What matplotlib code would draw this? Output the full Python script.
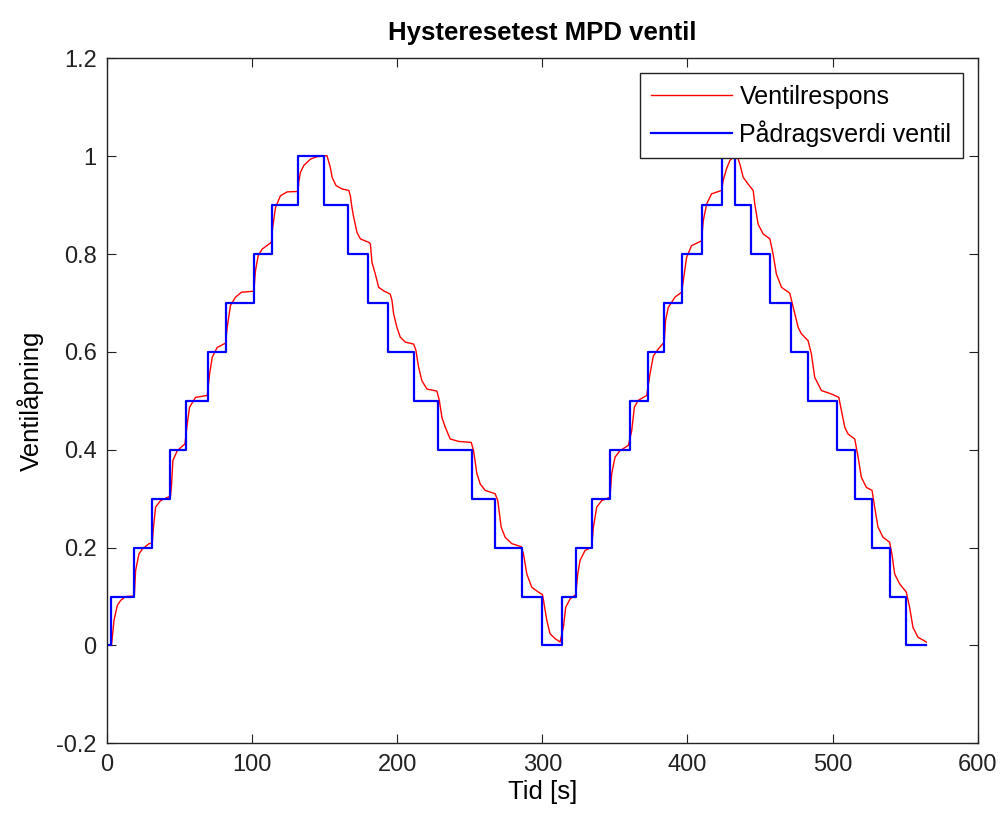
import matplotlib
matplotlib.use("Agg")
import matplotlib.pyplot as plt

# Command signal: start time of each step and the level held from that time
cmd_t = [0, 2.5, 18.6, 31.2, 43.4, 54.6, 69.7, 81.9, 101.2, 113.6, 131.7,
         149.8, 166.1, 180.1, 193.6, 211.5, 228.0, 251.4, 267.7, 285.8, 299.6,
         313.4, 323.0, 334.2, 346.6, 360.4, 372.6, 383.8, 396.4, 410.0, 423.9,
         433.1, 444.1, 456.8, 471.7, 483.1, 503.3, 515.7, 527.2, 539.4, 550.8]
cmd_v = [0.0, 0.1, 0.2, 0.3, 0.4, 0.5, 0.6, 0.7, 0.8, 0.9, 1.0,
         0.9, 0.8, 0.7, 0.6, 0.5, 0.4, 0.3, 0.2, 0.1, 0.0,
         0.1, 0.2, 0.3, 0.4, 0.5, 0.6, 0.7, 0.8, 0.9, 1.0,
         0.9, 0.8, 0.7, 0.6, 0.5, 0.4, 0.3, 0.2, 0.1, 0.0]
cmd_end = 564.6

# Measured valve response
resp_t = [2.8, 3.2, 4.8, 7.1, 9.4, 12.8, 18.8, 19.7, 22.0, 24.3, 28.9, 31.2, 31.9,
          33.5, 36.9, 42.7, 43.8, 44.5, 45.4, 48.4, 53.7, 55.3, 56.9, 61.0, 69.1,
          70.7, 72.5, 75.9, 81.7, 82.8, 85.1, 88.6, 92.7, 101.2, 102.3, 104.2,
          106.9, 113.3, 114.2, 116.1, 119.5, 124.1, 131.7, 132.1, 133.3, 135.6,
          140.2, 144.8, 151.6, 153.9, 155.1, 157.8, 162.0, 166.6, 167.7, 168.8,
          170.0, 172.3, 174.6, 180.3, 181.5, 182.6, 184.9, 187.2, 190.6, 195.2,
          196.4, 197.5, 199.8, 202.1, 205.6, 211.3, 212.9, 214.7, 217.0, 220.5,
          227.3, 229.0, 230.8, 233.1, 236.5, 242.3, 251.0, 252.6, 254.9, 257.2,
          260.6, 267.5, 269.3, 271.6, 274.4, 279.0, 285.4, 287.0, 289.3, 292.7,
          297.3, 300.1, 300.8, 303.1, 305.3, 308.8, 312.2, 314.5, 316.1, 319.1,
          323.0, 324.4, 326.0, 329.4, 334.0, 335.2, 337.5, 340.9, 346.6, 347.8,
          350.1, 353.5, 359.3, 361.6, 363.4, 366.1, 371.9, 374.2, 376.5, 379.9,
          384.0, 384.9, 386.8, 391.4, 396.0, 397.8, 399.4, 402.8, 409.7, 410.9,
          413.2, 416.6, 423.5, 424.6, 426.9, 429.2, 431.5, 434.5, 436.1, 438.4,
          441.8, 445.3, 446.4, 448.7, 452.2, 456.8, 459.0, 461.3, 464.8, 470.5,
          474.0, 476.3, 478.5, 483.1, 485.4, 487.7, 492.3, 499.2, 504.3, 506.1,
          508.4, 510.7, 515.3, 517.6, 519.8, 523.3, 527.2, 529.0, 531.3, 534.8,
          539.3, 540.9, 542.8, 546.2, 550.8, 553.1, 555.4, 558.8, 564.6]
resp_v = [0.0, 0.003, 0.051, 0.082, 0.092, 0.100, 0.101, 0.153, 0.187, 0.197, 0.208,
          0.209, 0.238, 0.283, 0.296, 0.304, 0.306, 0.330, 0.378, 0.398, 0.412,
          0.453, 0.487, 0.507, 0.511, 0.555, 0.589, 0.609, 0.618, 0.650, 0.695,
          0.712, 0.722, 0.724, 0.766, 0.797, 0.810, 0.824, 0.855, 0.895, 0.919,
          0.927, 0.928, 0.947, 0.967, 0.981, 0.994, 0.999, 1.001, 0.977, 0.957,
          0.940, 0.933, 0.930, 0.919, 0.895, 0.875, 0.844, 0.831, 0.824, 0.821,
          0.783, 0.759, 0.732, 0.725, 0.718, 0.705, 0.678, 0.650, 0.630, 0.620,
          0.616, 0.603, 0.569, 0.541, 0.524, 0.520, 0.501, 0.466, 0.446, 0.422,
          0.417, 0.415, 0.398, 0.351, 0.330, 0.317, 0.310, 0.296, 0.242, 0.221,
          0.208, 0.202, 0.187, 0.146, 0.119, 0.109, 0.104, 0.092, 0.051, 0.024,
          0.014, 0.007, 0.037, 0.078, 0.095, 0.104, 0.146, 0.174, 0.194, 0.201,
          0.242, 0.283, 0.296, 0.303, 0.351, 0.385, 0.398, 0.409, 0.439, 0.487,
          0.501, 0.511, 0.555, 0.592, 0.606, 0.620, 0.664, 0.691, 0.712, 0.722,
          0.759, 0.793, 0.817, 0.827, 0.868, 0.902, 0.923, 0.930, 0.950, 0.974,
          0.991, 0.998, 0.998, 0.984, 0.957, 0.943, 0.930, 0.902, 0.861, 0.841,
          0.831, 0.800, 0.759, 0.732, 0.720, 0.678, 0.650, 0.637, 0.623, 0.596,
          0.548, 0.521, 0.514, 0.507, 0.480, 0.446, 0.432, 0.422, 0.385, 0.344,
          0.323, 0.317, 0.283, 0.242, 0.221, 0.211, 0.187, 0.146, 0.126, 0.109,
          0.078, 0.037, 0.017, 0.007]

x_ticks = [0, 100, 200, 300, 400, 500, 600]
y_ticks = [-0.2, 0, 0.2, 0.4, 0.6, 0.8, 1.0, 1.2]
y_tick_labels = ["-0.2", "0", "0.2", "0.4", "0.6", "0.8", "1", "1.2"]

plt.rcParams['font.family'] = ['Liberation Sans', 'DejaVu Sans']
FS = 17

fig = plt.figure(figsize=(10.01, 8.17), dpi=100)
ax = fig.add_axes([0.1069, 0.0902, 0.8698, 0.8384])

ax.plot(resp_t, resp_v, color='#ff0000', lw=1.0, label='Ventilrespons')
ax.step(cmd_t + [cmd_end], cmd_v + [cmd_v[-1]], where='post',
        color='#0000ff', lw=1.6, label='Pådragsverdi ventil')

ax.set_xlim(0, 600)
ax.set_ylim(-0.2, 1.2)
ax.set_xticks(x_ticks)
ax.set_yticks(y_ticks)
ax.set_yticklabels(y_tick_labels)
ax.tick_params(direction='in', top=True, right=True, length=6.5, width=0.8,
               labelsize=FS, colors='#222222')
ax.tick_params(axis='x', pad=7.5)
ax.tick_params(axis='y', pad=7.5)
for s in ax.spines.values():
    s.set_linewidth(1.0)
    s.set_color('#222222')

ax.set_xlabel('Tid [s]', fontsize=18.5, labelpad=3)
ax.set_ylabel('Ventilåpning', fontsize=18.5, labelpad=9)
ax.set_title('Hysteresetest MPD ventil', fontsize=18.5, fontweight='bold', pad=13)

leg = ax.legend(loc='upper right', fontsize=18, fancybox=False, framealpha=1,
                edgecolor='#222222', borderaxespad=0.6, handlelength=3.25,
                handletextpad=0.28, borderpad=0.45, labelspacing=0.45)
leg.get_frame().set_linewidth(1.0)

fig.savefig('out.png', dpi=100)
